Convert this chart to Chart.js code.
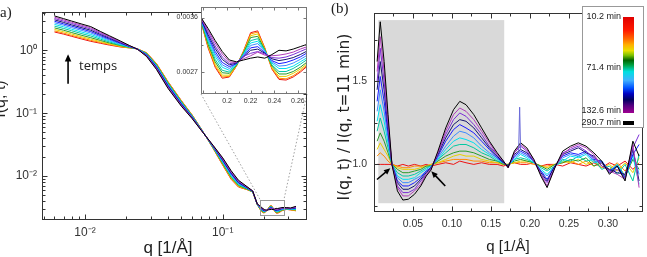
<!DOCTYPE html>
<html><head><meta charset="utf-8">
<script src="https://cdn.jsdelivr.net/npm/chart.js@4.4.1/dist/chart.umd.min.js"></script>
<style>
html,body{margin:0;padding:0;background:#fff;}
#wrap{position:relative;width:647px;height:257px;overflow:hidden;background:#fff;font-family:"Liberation Sans",Arial,sans-serif;color:#222;}
canvas{position:absolute;}
.t{position:absolute;white-space:nowrap;line-height:1;}
.r{position:absolute;white-space:nowrap;line-height:1;transform:translate(-50%,-50%) rotate(-90deg);}
.c{position:absolute;white-space:nowrap;line-height:1;transform:translate(-50%,-50%);}
</style></head><body>
<div id="wrap">
<canvas id="ca" width="325" height="257" style="left:0;top:0;width:325px;height:257px"></canvas>
<canvas id="ci" width="150" height="112" style="left:160px;top:0;width:150px;height:112px"></canvas>
<canvas id="cb" width="322" height="257" style="left:325px;top:0;width:322px;height:257px"></canvas>
<div class="t" style="left:-5px;top:5px;font-family:'Liberation Serif',serif;font-size:15px;">(a)</div>
<div class="r" style="left:0px;top:99px;font-size:16px;">I(q, t)</div>
<div class="c" style="left:168px;top:247px;font-size:17px;">q [1/Å]</div>
<div class="t" style="left:79px;top:59px;font-family:'Open Sans',sans-serif;font-size:13px;">temps</div>
<div class="t" style="left:331px;top:1px;font-family:'Liberation Serif',serif;font-size:15px;">(b)</div>
<div class="r" style="left:345px;top:117px;font-family:'DejaVu Sans',sans-serif;font-size:15.5px;">I(q, t) / I(q, t=11 min)</div>
<div class="c" style="left:508px;top:245px;font-size:15px;">q [1/Å]</div>
<div id="leg" style="position:absolute;left:582px;top:6px;width:62px;height:122px;box-sizing:border-box;border:1px solid #999;background:#fff;"></div>
<div style="position:absolute;left:623px;top:17px;width:11px;height:96px;background:linear-gradient(to bottom,#e00000 0%,#ff1a00 14%,#ff6a00 23%,#ffb000 29%,#e8e000 35%,#7ac000 40%,#006400 45%,#00a040 50%,#00e0e0 57%,#40b0ff 66%,#0050ff 74%,#0000c0 80%,#000060 86%,#500080 92%,#a00090 100%);"></div>
<div style="position:absolute;left:623px;top:121px;width:11px;height:4px;background:#000;"></div>
<div class="t" style="right:26px;top:12px;font-size:9px;">10.2 min</div>
<div class="t" style="right:26px;top:63px;font-size:9px;">71.4 min</div>
<div class="t" style="right:26px;top:106px;font-size:9px;">132.6 min</div>
<div class="t" style="right:26px;top:118px;font-size:9px;">290.7 min</div>
</div>
<script>
// ---------- data ----------
const times = [10.2, 16, 24, 33, 43, 55, 71.4, 85, 100, 115, 132.6, 290.7];
const colors = ['#ee1111','#ff8c00','#e6d200','#2a9a2a','#00c8a0','#00e0f0','#3d8bff','#1a1aff','#14146e','#7b2fd6','#b03cb8','#000000'];

// panel (a): I(q,t)
const qA = [0.006,0.007,0.008,0.0095,0.011,0.013,0.015,0.018,0.021,0.024,0.028,0.033,0.04,0.05,0.06,0.07,0.085,0.1,0.115,0.13,0.15,0.165,0.178,0.184,0.19,0.196,0.202,0.208,0.214,0.22,0.226,0.232,0.238,0.244,0.25,0.256,0.262,0.268,0.29,0.31,0.34];
const iA0 = [1.97,1.82,1.68,1.52,1.40,1.30,1.22,1.14,1.10,1.06,0.92,0.62,0.32,0.16,0.094,0.056,0.0277,0.0149,0.0089,0.0067,0.0061,0.0056,3.53e-3,3.10e-3,2.78e-3,2.60e-3,2.62e-3,2.80e-3,3.05e-3,3.35e-3,3.38e-3,3.10e-3,2.75e-3,2.58e-3,2.57e-3,2.62e-3,2.70e-3,2.80e-3,2.95e-3,2.90e-3,2.80e-3];
const iA1 = [2.05,1.89,1.74,1.58,1.45,1.34,1.25,1.15,1.10,1.06,0.914,0.614,0.316,0.158,0.0934,0.0560,0.0279,0.0151,0.0091,0.0068,0.0061,0.0056,3.53e-3,3.12e-3,2.80e-3,2.62e-3,2.63e-3,2.80e-3,3.04e-3,3.33e-3,3.36e-3,3.09e-3,2.76e-3,2.60e-3,2.59e-3,2.64e-3,2.72e-3,2.82e-3,2.96e-3,2.91e-3,2.83e-3];
const iA2 = [2.16,1.99,1.83,1.65,1.52,1.38,1.28,1.17,1.11,1.06,0.906,0.606,0.312,0.156,0.0926,0.0556,0.0281,0.0155,0.0093,0.0069,0.0062,0.0056,3.54e-3,3.14e-3,2.83e-3,2.65e-3,2.65e-3,2.81e-3,3.03e-3,3.30e-3,3.33e-3,3.08e-3,2.78e-3,2.63e-3,2.63e-3,2.68e-3,2.75e-3,2.84e-3,2.97e-3,2.92e-3,2.86e-3];
const iA3 = [2.29,2.10,1.93,1.74,1.60,1.44,1.32,1.20,1.12,1.06,0.896,0.596,0.306,0.154,0.0916,0.0554,0.0284,0.0158,0.0096,0.0071,0.0062,0.0056,3.54e-3,3.16e-3,2.87e-3,2.69e-3,2.68e-3,2.81e-3,3.02e-3,3.27e-3,3.29e-3,3.07e-3,2.80e-3,2.67e-3,2.67e-3,2.71e-3,2.78e-3,2.87e-3,2.99e-3,2.94e-3,2.90e-3];
const iA4 = [2.44,2.24,2.06,1.85,1.70,1.51,1.37,1.22,1.13,1.06,0.884,0.584,0.299,0.151,0.0904,0.0551,0.0287,0.0163,0.0099,0.0073,0.0063,0.0057,3.55e-3,3.20e-3,2.91e-3,2.73e-3,2.70e-3,2.82e-3,3.01e-3,3.22e-3,3.25e-3,3.06e-3,2.82e-3,2.71e-3,2.71e-3,2.76e-3,2.83e-3,2.91e-3,3.01e-3,2.96e-3,2.95e-3];
const iA5 = [2.60,2.38,2.18,1.96,1.80,1.58,1.42,1.25,1.14,1.06,0.872,0.572,0.292,0.148,0.0892,0.0548,0.0290,0.0167,0.0102,0.0075,0.0064,0.0057,3.56e-3,3.23e-3,2.96e-3,2.78e-3,2.73e-3,2.83e-3,2.99e-3,3.18e-3,3.21e-3,3.05e-3,2.85e-3,2.76e-3,2.76e-3,2.80e-3,2.87e-3,2.94e-3,3.03e-3,2.98e-3,3.00e-3];
const iA6 = [2.76,2.52,2.31,2.08,1.90,1.65,1.47,1.28,1.15,1.055,0.86,0.56,0.285,0.145,0.088,0.0545,0.0294,0.0172,0.0106,0.0077,0.0065,0.0057,3.57e-3,3.26e-3,3.00e-3,2.82e-3,2.76e-3,2.84e-3,2.98e-3,3.14e-3,3.17e-3,3.04e-3,2.87e-3,2.80e-3,2.81e-3,2.85e-3,2.91e-3,2.98e-3,3.05e-3,3.00e-3,3.05e-3];
const iA7 = [2.92,2.65,2.44,2.19,2.00,1.72,1.52,1.31,1.16,1.054,0.848,0.548,0.278,0.142,0.0868,0.0542,0.0297,0.0177,0.0109,0.0078,0.0065,0.0057,3.57e-3,3.29e-3,3.04e-3,2.86e-3,2.79e-3,2.84e-3,2.96e-3,3.10e-3,3.12e-3,3.02e-3,2.89e-3,2.84e-3,2.86e-3,2.90e-3,2.95e-3,3.02e-3,3.07e-3,3.02e-3,3.10e-3];
const iA8 = [3.08,2.79,2.56,2.30,2.10,1.79,1.57,1.34,1.17,1.053,0.836,0.536,0.271,0.139,0.0856,0.0539,0.0300,0.0181,0.0112,0.0080,0.0066,0.0057,3.58e-3,3.32e-3,3.09e-3,2.91e-3,2.82e-3,2.85e-3,2.95e-3,3.06e-3,3.08e-3,3.01e-3,2.92e-3,2.89e-3,2.91e-3,2.94e-3,2.99e-3,3.05e-3,3.09e-3,3.04e-3,3.15e-3];
const iA9 = [3.23,2.93,2.69,2.41,2.20,1.86,1.62,1.36,1.18,1.052,0.824,0.524,0.264,0.136,0.0844,0.0536,0.0303,0.0186,0.0115,0.0082,0.0067,0.0058,3.59e-3,3.36e-3,3.13e-3,2.95e-3,2.84e-3,2.86e-3,2.96e-3,3.01e-3,3.04e-3,3.00e-3,2.94e-3,2.93e-3,2.95e-3,2.99e-3,3.04e-3,3.09e-3,3.11e-3,3.06e-3,3.20e-3];
const iA10 = [3.39,3.07,2.81,2.52,2.30,1.93,1.67,1.39,1.19,1.051,0.812,0.512,0.257,0.133,0.0832,0.0533,0.0307,0.0190,0.0119,0.0084,0.0067,0.0058,3.59e-3,3.39e-3,3.18e-3,3.00e-3,2.87e-3,2.86e-3,2.92e-3,2.97e-3,3.03e-3,2.98e-3,2.97e-3,2.98e-3,3.00e-3,3.03e-3,3.08e-3,3.12e-3,3.13e-3,3.08e-3,3.25e-3];
const iA11 = [3.55,3.21,2.94,2.63,2.40,2.00,1.72,1.42,1.20,1.05,0.80,0.50,0.25,0.13,0.082,0.053,0.031,0.0195,0.0122,0.0086,0.0068,0.0058,3.60e-3,3.42e-3,3.22e-3,3.04e-3,2.90e-3,2.87e-3,2.90e-3,2.93e-3,2.95e-3,2.93e-3,2.99e-3,3.06e-3,3.05e-3,3.08e-3,3.12e-3,3.16e-3,3.15e-3,3.10e-3,3.30e-3];
const seriesA = [iA0,iA1,iA2,iA3,iA4,iA5,iA6,iA7,iA8,iA9,iA10,iA11];

// panel (b): I(q,t)/I(q,t=11 min)
const qB = [0.004,0.008,0.013,0.018,0.023,0.03,0.037,0.044,0.052,0.06,0.067,0.073,0.082,0.092,0.102,0.11,0.118,0.128,0.138,0.148,0.158,0.166,0.172,0.18,0.188,0.196,0.205,0.214,0.222,0.232,0.242,0.252,0.262,0.272,0.282,0.292,0.302,0.312,0.322,0.332,0.34];
const rB0 = [1.00,1.00,1.00,1.00,1.00,0.99,1.00,0.99,1.00,0.99,1.00,0.99,1.00,1.01,1.00,1.02,1.01,1.00,1.01,1.00,1.00,0.99,1.00,1.01,1.00,1.00,1.01,0.99,1.00,1.00,0.99,1.01,1.00,0.99,1.01,0.98,1.01,0.99,1.02,0.97,1.01];
const rB1 = [1.05,1.07,1.05,1.02,1.00,0.99,0.98,0.98,0.99,0.99,0.99,1.00,1.01,1.02,1.03,1.03,1.03,1.02,1.02,1.01,1.01,1.00,1.00,1.01,1.01,1.01,1.00,0.99,0.99,1.00,1.01,1.02,1.00,1.02,0.99,1.01,0.97,1.01,0.96,1.03,1.00];
const rB2 = [1.09,1.13,1.09,1.05,1.00,0.98,0.97,0.97,0.97,0.98,0.99,1.00,1.01,1.03,1.05,1.06,1.05,1.05,1.03,1.02,1.01,1.00,1.00,1.01,1.02,1.02,1.01,0.99,0.98,1.00,1.02,1.01,1.03,1.00,1.02,0.98,1.00,0.96,1.01,0.95,1.04];
const rB3 = [1.14,1.19,1.14,1.07,1.00,0.97,0.95,0.95,0.96,0.97,0.99,0.99,1.02,1.05,1.07,1.08,1.08,1.07,1.05,1.03,1.02,1.00,1.00,1.02,1.03,1.02,1.01,0.99,0.97,1.00,1.01,1.03,1.02,1.04,0.99,1.01,0.95,1.00,0.93,1.03,0.97];
const rB4 = [1.20,1.28,1.20,1.10,1.00,0.95,0.93,0.93,0.94,0.96,0.98,0.99,1.03,1.07,1.11,1.12,1.12,1.10,1.07,1.05,1.02,1.01,0.99,1.03,1.04,1.03,1.01,0.98,0.96,0.99,1.03,1.02,1.05,1.02,1.03,0.97,0.99,0.94,1.00,0.90,1.06];
const rB5 = [1.26,1.36,1.26,1.13,1.00,0.93,0.91,0.91,0.92,0.95,0.97,0.99,1.03,1.09,1.14,1.16,1.15,1.13,1.09,1.06,1.03,1.01,0.99,1.03,1.06,1.04,1.01,0.97,0.94,0.99,1.02,1.05,1.04,1.06,1.01,1.02,0.96,1.00,0.92,1.05,0.88];
const rB6 = [1.32,1.45,1.32,1.16,1.00,0.92,0.89,0.89,0.91,0.93,0.96,0.98,1.04,1.11,1.17,1.20,1.19,1.16,1.11,1.07,1.04,1.01,0.99,1.04,1.07,1.05,1.02,0.96,0.93,0.99,1.04,1.06,1.05,1.07,1.02,1.01,0.95,0.99,0.91,1.08,0.94];
const rB7 = [1.38,1.53,1.38,1.19,1.00,0.90,0.87,0.87,0.89,0.92,0.96,0.98,1.05,1.14,1.21,1.24,1.22,1.19,1.14,1.09,1.04,1.01,0.99,1.05,1.08,1.06,1.02,0.96,0.91,0.99,1.05,1.07,1.06,1.08,1.03,1.02,0.96,0.99,0.92,1.06,1.12];
const rB8 = [1.45,1.62,1.45,1.22,1.00,0.89,0.85,0.85,0.87,0.91,0.95,0.98,1.06,1.16,1.24,1.27,1.26,1.22,1.16,1.10,1.05,1.01,0.99,1.06,1.09,1.07,1.02,0.95,0.90,0.99,1.06,1.08,1.10,1.07,1.05,0.99,0.97,0.95,0.94,1.09,0.90];
const rB9 = [1.50,1.70,1.50,1.24,1.00,0.87,0.83,0.83,0.85,0.90,0.94,0.97,1.07,1.18,1.27,1.31,1.29,1.24,1.18,1.11,1.06,1.02,0.98,1.07,1.11,1.08,1.02,0.94,0.89,0.98,1.07,1.09,1.11,1.08,1.04,1.01,0.95,0.97,0.92,1.10,1.18];
const rB10 = [1.56,1.77,1.56,1.27,1.00,0.86,0.81,0.81,0.84,0.88,0.94,0.97,1.07,1.20,1.30,1.34,1.32,1.27,1.20,1.13,1.06,1.02,0.98,1.07,1.12,1.09,1.03,0.94,0.87,0.98,1.06,1.10,1.12,1.10,1.06,0.99,0.96,0.94,0.91,1.12,0.86];
const rB11 = [1.62,1.86,1.62,1.30,1.00,0.84,0.785,0.79,0.82,0.87,0.93,0.965,1.08,1.22,1.33,1.38,1.36,1.30,1.22,1.14,1.07,1.02,0.98,1.08,1.13,1.10,1.03,0.93,0.86,0.98,1.08,1.11,1.13,1.11,1.07,1.02,0.94,0.99,0.90,1.14,1.05];
const seriesB = [rB0,rB1,rB2,rB3,rB4,rB5,rB6,rB7,rB8,rB9,rB10,rB11];
const spikeQ = [0.1855,0.1868,0.188];
const spikeV = [1.08,1.345,1.09];

// tick labels
const xTicksA = [0.01, 0.1], xLabelsA = ['10⁻²','10⁻¹'];
const yTicksA = [0.01, 0.1, 1], yLabelsA = ['10⁻²','10⁻¹','10⁰'];
const xTicksI = [0.2, 0.22, 0.24, 0.26], xLabelsI = ['0.2','0.22','0.24','0.26'];
const yTicksI = [0.0027, 0.0036], yLabelsI = ['0.0027','0.0036'];
const xTicksB = [0.05,0.10,0.15,0.20,0.25,0.30], xLabelsB = ['0.05','0.10','0.15','0.20','0.25','0.30'];
const yTicksB = [1.0, 1.5], yLabelsB = ['1.0','1.5'];

// annotations (data coordinates)
const zoomBox = {q0:0.187, q1:0.278, i0:0.00245, i1:0.0042};
const tempsArrow = {q:0.00753, from:0.295, to:0.87};
const shadeB = {q0:0.0055, q1:0.167, v0:0.766, v1:1.87};
const arrowsB = [{x1:0.0038,y1:0.909,x2:0.0209,y2:0.977},{x1:0.0914,y1:0.870,x2:0.0735,y2:0.958}];

// ---------- helpers ----------
function logTicks(min,max){const o=[];for(let e=Math.floor(Math.log10(min));e<=Math.ceil(Math.log10(max));e++){for(let m=1;m<10;m++){const v=m*Math.pow(10,e);if(v>=min&&v<=max)o.push({v,major:m===1});}}return o;}
function linTicks(min,max,step,every){const o=[];const n0=Math.ceil(min/step-1e-9),n1=Math.floor(max/step+1e-9);for(let n=n0;n<=n1;n++)o.push({v:n*step,major:n%every===0});return o;}
function drawArrow(ctx,x1,y1,x2,y2,head,w){const a=Math.atan2(y2-y1,x2-x1);ctx.lineWidth=w;ctx.beginPath();ctx.moveTo(x1,y1);ctx.lineTo(x2-Math.cos(a)*head*0.7,y2-Math.sin(a)*head*0.7);ctx.stroke();ctx.beginPath();ctx.moveTo(x2,y2);ctx.lineTo(x2-head*Math.cos(a-0.42),y2-head*Math.sin(a-0.42));ctx.lineTo(x2-head*Math.cos(a+0.42),y2-head*Math.sin(a+0.42));ctx.closePath();ctx.fill();}

const framePlugin = {
  id:'frame',
  beforeDraw(chart,args,o){ if(o.fill){const a=chart.chartArea,c=chart.ctx;c.save();c.fillStyle=o.fill;c.fillRect(a.left,a.top,a.right-a.left,a.bottom-a.top);c.restore();} },
  afterDraw(chart,args,o){
    const {ctx,chartArea:a,scales:{x,y}}=chart;
    ctx.save();ctx.strokeStyle=o.color;ctx.lineWidth=1;
    const L=Math.round(a.left)+0.5,R=Math.round(a.right)-0.5,T=Math.round(a.top)+0.5,B=Math.round(a.bottom)-0.5;
    ctx.beginPath();
    o.xt.forEach(t=>{const p=Math.round(x.getPixelForValue(t.v))+0.5;if(p<L+1||p>R-1)return;const l=t.major?o.maj:o.min;ctx.moveTo(p,B);ctx.lineTo(p,B-l);ctx.moveTo(p,T);ctx.lineTo(p,T+l);});
    o.yt.forEach(t=>{const p=Math.round(y.getPixelForValue(t.v))+0.5;if(p<T+1||p>B-1)return;const l=t.major?o.maj:o.min;ctx.moveTo(L,p);ctx.lineTo(L+l,p);ctx.moveTo(R,p);ctx.lineTo(R-l,p);});
    ctx.stroke();ctx.strokeRect(L,T,R-L,B-T);ctx.restore();
  }
};

function scaleOpts(type,min,max,ticks,labels,fontSize,pad,fit,axis){
  return {type,min,max,grid:{display:false,drawTicks:false,tickLength:0},border:{display:false},
    afterBuildTicks:s=>{s.ticks=ticks.map(v=>({value:v}));},
    afterFit:s=>{ if(axis==='x') s.height=fit; else s.width=fit; },
    ticks:{autoSkip:false,maxRotation:0,minRotation:0,padding:pad,color:'#333',font:{family:'Liberation Sans',size:fontSize},callback:(v,i)=>labels[i]}};
}
function lineSets(q,series,extra){
  return series.map((vals,k)=>Object.assign({label:times[k]+' min',data:vals.map((v,i)=>({x:q[i],y:v})),borderColor:colors[k],borderWidth:1,pointRadius:0,fill:false,tension:0,order:series.length-1-k},extra||{}));
}

// ---------- inset ----------
const insetChart = new Chart(document.getElementById('ci'),{
  type:'line',
  data:{datasets:lineSets(qA,seriesA)},
  options:{responsive:false,animation:false,devicePixelRatio:1,events:[],
    layout:{padding:{left:0,right:3,top:3,bottom:0}},
    plugins:{legend:{display:false},tooltip:{enabled:false},
      frame:{color:'#777',maj:3,min:2,fill:'#fff',xt:linTicks(0.178,0.2677,0.01,2),yt:linTicks(0.00234,0.00377,0.00045,2)}},
    scales:{x:scaleOpts('linear',0.178,0.2677,xTicksI,xLabelsI,7,3,18,'x'),
            y:scaleOpts('linear',0.00234,0.00377,yTicksI,yLabelsI,7,3,41,'y')}},
  plugins:[framePlugin]
});

// ---------- panel (a) ----------
const annA = {
  id:'annA',
  afterDatasetsDraw(chart){
    const {ctx,scales:{x,y}}=chart;ctx.save();
    const bx0=x.getPixelForValue(zoomBox.q0),bx1=x.getPixelForValue(zoomBox.q1),by0=y.getPixelForValue(zoomBox.i1),by1=y.getPixelForValue(zoomBox.i0);
    ctx.strokeStyle='#999';ctx.lineWidth=1;ctx.strokeRect(Math.round(bx0)+0.5,Math.round(by0)+0.5,Math.round(bx1-bx0),Math.round(by1-by0));
    const ia=insetChart.chartArea,off=160;
    ctx.setLineDash([1.5,2]);ctx.strokeStyle='#888';ctx.lineWidth=0.8;
    ctx.beginPath();ctx.moveTo(off+ia.left,ia.bottom);ctx.lineTo(bx0,by0);ctx.moveTo(off+ia.right,ia.bottom);ctx.lineTo(bx1,by0);ctx.stroke();
    ctx.setLineDash([]);
    ctx.strokeStyle='#000';ctx.fillStyle='#000';
    const ax=x.getPixelForValue(tempsArrow.q);
    drawArrow(ctx,ax,y.getPixelForValue(tempsArrow.from),ax,y.getPixelForValue(tempsArrow.to),8,1.6);
    ctx.restore();
  }
};
new Chart(document.getElementById('ca'),{
  type:'line',
  data:{datasets:lineSets(qA,seriesA)},
  options:{responsive:false,animation:false,devicePixelRatio:1,events:[],
    layout:{padding:{left:0,right:18,top:3,bottom:0}},
    plugins:{legend:{display:false},tooltip:{enabled:false},
      frame:{color:'#333',maj:5,min:3,xt:logTicks(0.00487,0.409),yt:logTicks(0.002,4.07)}},
    scales:{x:scaleOpts('logarithmic',0.00487,0.409,xTicksA,xLabelsA,12,5,37,'x'),
            y:scaleOpts('logarithmic',0.002,4.07,yTicksA,yLabelsA,12,5,42,'y')}},
  plugins:[framePlugin,annA]
});

// ---------- panel (b) ----------
const annB = {
  id:'annB',
  beforeDatasetsDraw(chart){
    const {ctx,scales:{x,y}}=chart;ctx.save();ctx.fillStyle='#d9d9d9';
    const x0=x.getPixelForValue(shadeB.q0),x1=x.getPixelForValue(shadeB.q1),y0=y.getPixelForValue(shadeB.v1),y1=y.getPixelForValue(shadeB.v0);
    ctx.fillRect(x0,y0,x1-x0,y1-y0);ctx.restore();
  },
  afterDatasetsDraw(chart){
    const {ctx,scales:{x,y}}=chart;ctx.save();ctx.strokeStyle='#000';ctx.fillStyle='#000';
    arrowsB.forEach(a=>drawArrow(ctx,x.getPixelForValue(a.x1),y.getPixelForValue(a.y1),x.getPixelForValue(a.x2),y.getPixelForValue(a.y2),7,1.6));
    ctx.restore();
  }
};
const setsB = lineSets(qB,seriesB);
setsB.push({label:'spike',data:spikeQ.map((q,i)=>({x:q,y:spikeV[i]})),borderColor:'#6a6ad8',borderWidth:1,pointRadius:0,fill:false,order:-1});
new Chart(document.getElementById('cb'),{
  type:'line',
  data:{datasets:setsB},
  options:{responsive:false,animation:false,devicePixelRatio:1,events:[],
    layout:{padding:{left:0,right:4,top:6,bottom:0}},
    plugins:{legend:{display:false},tooltip:{enabled:false},
      frame:{color:'#333',maj:5,min:3,xt:linTicks(0,0.345,0.025,2),yt:linTicks(0.713,1.911,0.25,2)}},
    scales:{x:scaleOpts('linear',0,0.345,xTicksB,xLabelsB,10.5,6,45,'x'),
            y:scaleOpts('linear',0.713,1.911,yTicksB,yLabelsB,10.5,7,49,'y')}},
  plugins:[framePlugin,annB]
});
</script>
</body></html>
